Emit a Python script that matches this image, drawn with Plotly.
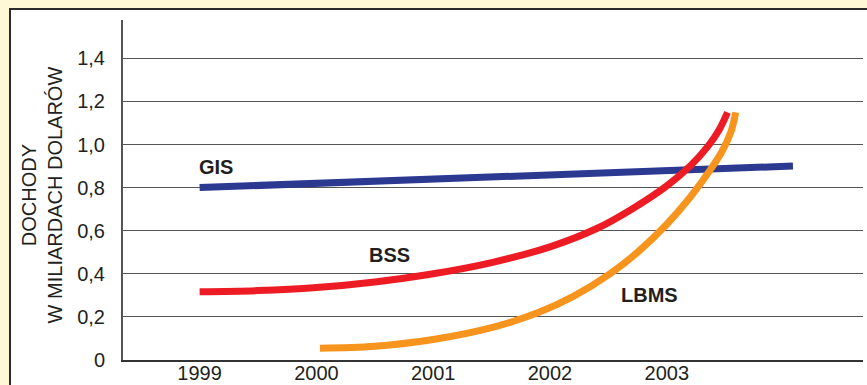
import plotly.graph_objects as go

# ---- data ----
years = [1999, 2000, 2001, 2002, 2003]
year_labels = ["1999", "2000", "2001", "2002", "2003"]
y_ticks = [0, 0.2, 0.4, 0.6, 0.8, 1.0, 1.2, 1.4]
y_tick_labels = ["0", "0,2", "0,4", "0,6", "0,8", "1,0", "1,2", "1,4"]

gis_x = [1999.0, 2004.08]
gis_y = [0.80, 0.90]

bss_x = [1999.0, 1999.5, 2000.0, 2000.5, 2001.0, 2001.5, 2002.0, 2002.4, 2002.7, 2003.0, 2003.2, 2003.35, 2003.45, 2003.52]
bss_y = [0.317, 0.322, 0.336, 0.362, 0.400, 0.452, 0.525, 0.610, 0.700, 0.808, 0.900, 0.990, 1.070, 1.149]

lbms_x = [2000.03, 2000.5, 2001.0, 2001.5, 2001.9, 2002.2, 2002.5, 2002.75, 2003.0, 2003.2, 2003.35, 2003.47, 2003.55, 2003.59]
lbms_y = [0.055, 0.064, 0.095, 0.150, 0.220, 0.295, 0.395, 0.500, 0.630, 0.755, 0.865, 0.965, 1.060, 1.149]

series_labels = ["GIS", "BSS", "LBMS"]
label_x = [1999.14, 2000.63, 2002.85]
label_y = [0.895, 0.487, 0.30]

# ---- styling ----
BLUE = "#2B3990"
RED = "#ED1C24"
ORANGE = "#F7941D"
TEXT = "#231F20"
FONT = "Liberation Sans, Arial, sans-serif"

fig = go.Figure()
fig.add_trace(go.Scatter(x=gis_x, y=gis_y, mode="lines",
                         line=dict(color=BLUE, width=7), hoverinfo="skip"))
fig.add_trace(go.Scatter(x=bss_x, y=bss_y, mode="lines",
                         line=dict(color=RED, width=7, shape="spline", smoothing=1.0), hoverinfo="skip"))
fig.add_trace(go.Scatter(x=lbms_x, y=lbms_y, mode="lines",
                         line=dict(color=ORANGE, width=7, shape="spline", smoothing=1.0), hoverinfo="skip"))

for t, xx, yy in zip(series_labels, label_x, label_y):
    fig.add_annotation(x=xx, y=yy, text="<b>" + t + "</b>", showarrow=False,
                       xanchor="center", yanchor="middle",
                       font=dict(family=FONT, size=20, color=TEXT))

fig.add_annotation(xref="paper", yref="paper", x=-0.1095, y=0.487,
                   text="DOCHODY<br>W MILIARDACH DOLARÓW", textangle=-90,
                   showarrow=False, xanchor="center", yanchor="middle",
                   font=dict(family=FONT, size=20, color=TEXT))

# white panel with dark top/left border
fig.add_shape(type="rect", xref="paper", yref="paper",
              x0=-0.1527, x1=1.2, y0=-0.3, y1=1.0324,
              fillcolor="white", line=dict(color="#2a2a2a", width=2), layer="below")

fig.update_layout(
    width=867, height=385,
    margin=dict(l=123, r=4, t=20, b=25),
    paper_bgcolor="#FFF8D6",
    plot_bgcolor="white",
    showlegend=False,
    font=dict(family=FONT, size=20, color=TEXT),
)
fig.update_xaxes(range=[1998.344, 2004.68], tickvals=years, ticktext=year_labels,
                 showgrid=False, zeroline=False, showline=True, linecolor="#333333",
                 linewidth=1.5, ticks="", ticklabelstandoff=-6, automargin=False,
                 tickfont=dict(family=FONT, size=20, color=TEXT))
fig.update_yaxes(range=[0, 1.5777], tickvals=y_ticks, ticktext=y_tick_labels,
                 showgrid=True, gridcolor="#555555", gridwidth=1.2, zeroline=False,
                 showline=True, linecolor="#555555", linewidth=2, ticks="",
                 ticklabelstandoff=12, automargin=False,
                 tickfont=dict(family=FONT, size=20, color=TEXT))

fig.write_html("out.html")
